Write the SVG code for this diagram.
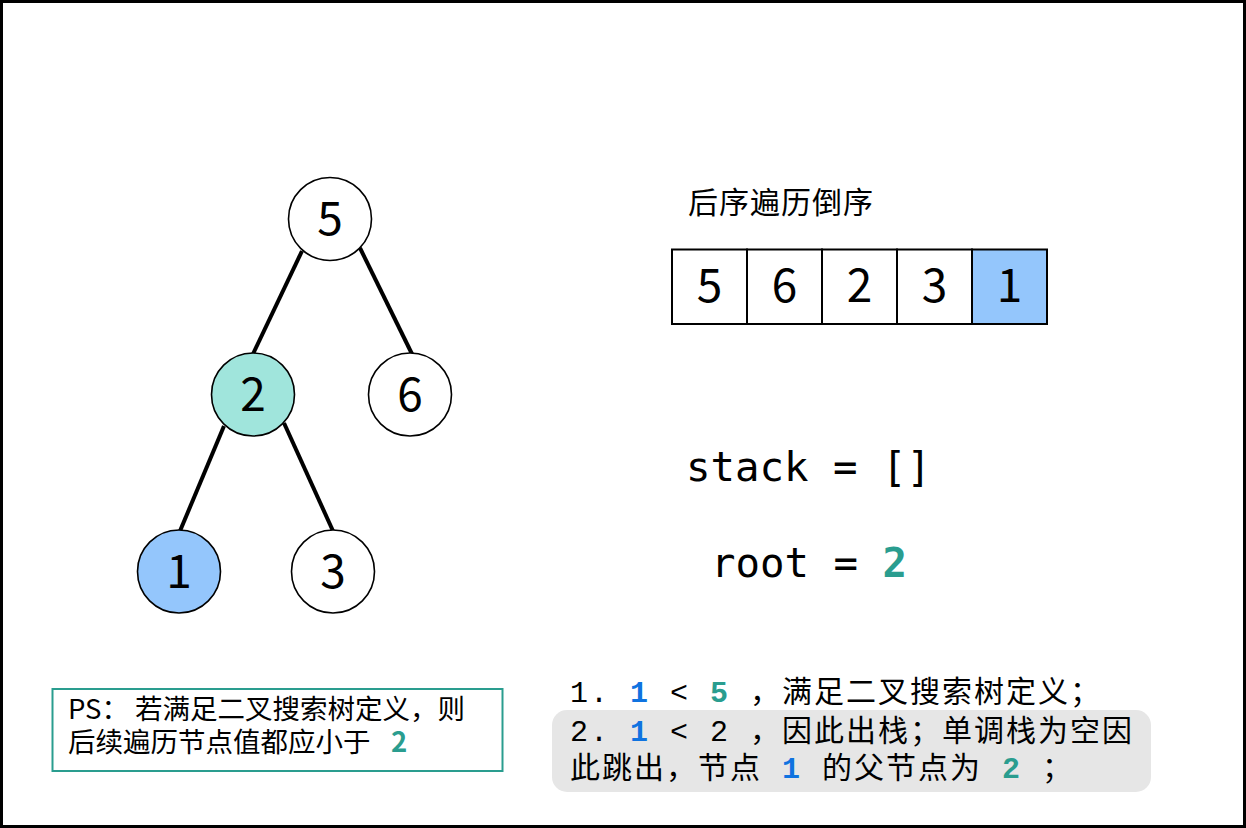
<svg xmlns="http://www.w3.org/2000/svg" width="1246" height="828" viewBox="0 0 1246 828">
<style>
.node circle{stroke:#000;stroke-width:1.6}
.num{font-family:"Noto Sans CJK SC","Noto Sans",sans-serif;font-size:46px;text-anchor:middle;fill:#000}
.edge{stroke:#000;stroke-width:4;stroke-linecap:butt}
.cell{fill:#fff;stroke:#000;stroke-width:2}
.mono{font-family:"DejaVu Sans Mono",monospace;font-size:40.7px;fill:#000}
.note{font-family:"Liberation Mono","Noto Sans CJK SC",monospace;font-size:30px;fill:#000}
.cjk{font-family:"Noto Sans CJK SC","Noto Sans",sans-serif;fill:#000}
.blue{fill:#0f73e0;font-weight:bold}
.teal{fill:#2a9d8f;font-weight:bold}
</style>
<rect x="1.5" y="1.5" width="1243" height="825" fill="#fff" stroke="#000" stroke-width="3"/>
<g id="connectors">
<line class="edge" x1="302" y1="251" x2="253" y2="354"/>
<line class="edge" x1="360" y1="248" x2="412" y2="354"/>
<line class="edge" x1="224" y1="426" x2="180" y2="531"/>
<line class="edge" x1="284" y1="423" x2="333" y2="531"/>
</g>
<g id="node5" class="node"><circle cx="330" cy="219" r="41.5" fill="#fff"/><text class="num" x="330" y="235">5</text></g>
<g id="node2" class="node"><circle cx="253" cy="394.5" r="41.5" fill="#a0e5dc"/><text class="num" x="253" y="410.5">2</text></g>
<g id="node6" class="node"><circle cx="410" cy="394.5" r="41.5" fill="#fff"/><text class="num" x="410" y="410.5">6</text></g>
<g id="node1" class="node"><circle cx="179" cy="571.5" r="41.5" fill="#94c6fc"/><text class="num" x="179" y="587.5">1</text></g>
<g id="node3" class="node"><circle cx="333" cy="571.5" r="41.5" fill="#fff"/><text class="num" x="333" y="587.5">3</text></g>
<g id="title"><text class="cjk" x="688" y="213" font-size="30" letter-spacing="1">后序遍历倒序</text></g>
<g id="array">
<rect class="cell" x="672" y="249.5" width="75" height="74.5"/>
<rect class="cell" x="747" y="249.5" width="75" height="74.5"/>
<rect class="cell" x="822" y="249.5" width="75" height="74.5"/>
<rect class="cell" x="897" y="249.5" width="75" height="74.5"/>
<rect class="cell" x="972" y="249.5" width="75" height="74.5" style="fill:#94c6fc"/>
<text class="num" x="709.5" y="302">5</text>
<text class="num" x="784.5" y="302">6</text>
<text class="num" x="859.5" y="302">2</text>
<text class="num" x="934.5" y="302">3</text>
<text class="num" x="1009.5" y="302">1</text>
</g>
<g id="stack"><text class="mono" x="686" y="481" xml:space="preserve">stack = []</text></g>
<g id="root"><text class="mono" x="711" y="577" xml:space="preserve">root = <tspan class="teal">2</tspan></text></g>
<g id="ps-note">
<rect x="52.5" y="689" width="450" height="82" fill="#fff" stroke="#2a9d8f" stroke-width="2"/>
<text class="cjk" font-size="27.5" x="68" y="719">PS：<tspan x="135">若满足二叉搜索树定义，则</tspan></text>
<text class="cjk" font-size="27.5" x="68" y="752">后续遍历节点值都应小于<tspan class="teal" x="391">2</tspan></text>
</g>
<g id="steps">
<rect x="552" y="710" width="599" height="82" rx="15" fill="#e6e6e6"/>
<text class="note" y="702" letter-spacing="2"><tspan x="570">1.</tspan><tspan x="630" class="blue">1</tspan><tspan x="670">&lt;</tspan><tspan x="710" class="teal">5</tspan><tspan x="750">，满足二叉搜索树定义；</tspan></text>
<text class="note" y="741" letter-spacing="2"><tspan x="570">2.</tspan><tspan x="630" class="blue">1</tspan><tspan x="670">&lt;</tspan><tspan x="710">2</tspan><tspan x="750">，因此出栈；单调栈为空因</tspan></text>
<text class="note" y="778" letter-spacing="2"><tspan x="570">此跳出，节点</tspan><tspan x="782" class="blue">1</tspan><tspan x="822">的父节点为</tspan><tspan x="1002" class="teal">2</tspan><tspan x="1042">；</tspan></text>
</g>
</svg>
